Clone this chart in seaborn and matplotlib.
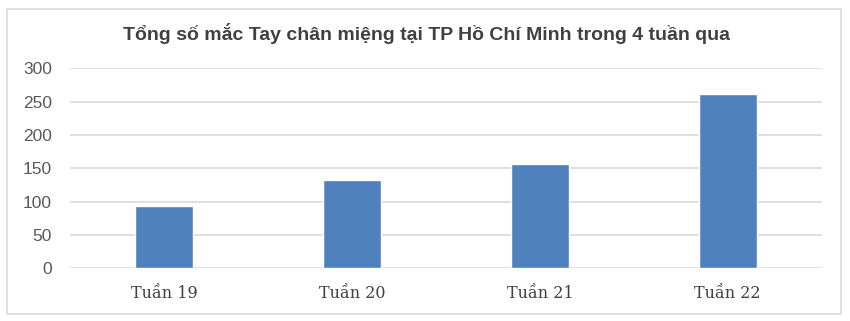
import matplotlib
matplotlib.use("Agg")
import matplotlib.pyplot as plt
import seaborn as sns
import pandas as pd
from matplotlib import font_manager
from matplotlib.patches import Rectangle

categories = ["Tuần 19", "Tuần 20", "Tuần 21", "Tuần 22"]
values = [93, 133, 157, 261]
yticks = [0, 50, 100, 150, 200, 250, 300]
title = "Tổng số mắc Tay chân miệng tại TP Hồ Chí Minh trong 4 tuần qua"

sns.set_theme(style="white")
names = {f.name for f in font_manager.fontManager.ttflist}
title_font = "Liberation Sans Narrow" if "Liberation Sans Narrow" in names else "Liberation Sans"
plt.rcParams['font.family'] = ['DejaVu Sans']

W, H = 850, 321
fig = plt.figure(figsize=(W / 100, H / 100), dpi=100)
ax = fig.add_axes([70 / W, 1 - 268.3 / H, (821.7 - 70) / W, 200 / H])

df = pd.DataFrame({"week": categories, "cases": values})
sns.barplot(data=df, x="week", y="cases", color="#4F81BD", saturation=1,
            width=0.31, ax=ax, zorder=3)

ax.set_xlim(-0.5, 3.5)
ax.set_ylim(0, 300)
ax.set_yticks(yticks)
ax.set_yticklabels([str(v) for v in yticks], family="Liberation Sans", fontsize=12.5, color="#595959")
ax.set_xticks(range(len(categories)))
ax.set_xticklabels(categories, family="DejaVu Serif", fontsize=11.5, color="#404040")
ax.tick_params(axis="y", length=0, pad=13)
ax.tick_params(axis="x", length=0, pad=12)
ax.set_xlabel("")
ax.set_ylabel("")
ax.grid(axis="y", color="#D9D9D9", linewidth=1.2, zorder=0)
for s in ax.spines.values():
    s.set_visible(False)

fig.text(426 / W, 1 - 33 / H, title, ha="center", va="center",
         fontsize=14, fontweight="bold", color="#404040", family=title_font)

fig.patches.append(Rectangle((7 / W, 1 - 314 / H), (841 - 7) / W, (314 - 9) / H,
                             transform=fig.transFigure, fill=False,
                             edgecolor="#D9D9D9", linewidth=1.2))

fig.savefig("out.png", dpi=100)
